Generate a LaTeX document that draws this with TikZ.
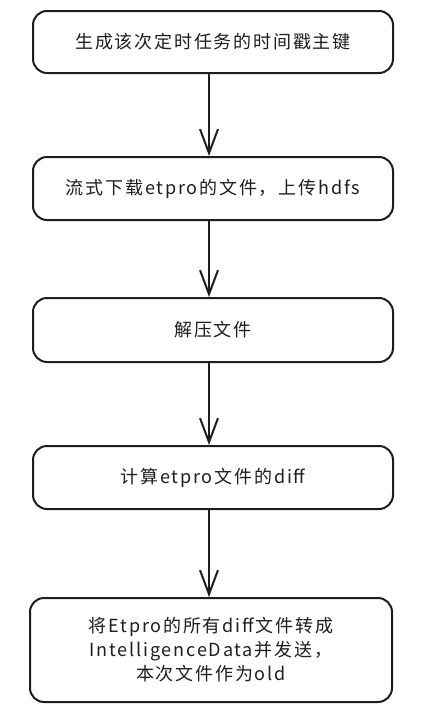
\documentclass[tikz,border=0pt]{standalone}
\usepackage{fontspec}
\setmainfont{Noto Sans CJK SC}[LetterSpace=10]
\usetikzlibrary{arrows.meta}
\definecolor{ink}{HTML}{1E1E1E}

\begin{document}
\begin{tikzpicture}[x=1pt,y=-1pt,
        stepbox/.style={draw=ink,line width=2pt,rounded corners=14pt,
                        minimum width=360pt,inner sep=0pt,align=center,
                        text=ink,font=\fontsize{18}{24}\selectfont},
        flow/.style={draw=ink,line width=2.6pt,
                     -{Straight Barb[length=24pt,width=18pt,line width=2pt]}}]
                \useasboundingbox[fill=white] (0,0) rectangle (427,720);
                \node[stepbox,minimum height=62pt] (gen) at (213,42) {生成该次定时任务的时间戳主键};
                \node[stepbox,minimum height=63pt] (down) at (213,188.5) {流式下载etpro的文件，上传hdfs};
                \node[stepbox,minimum height=64pt] (unzip) at (213,330) {解压文件};
                \node[stepbox,minimum height=63pt] (diff) at (213,477.5) {计算etpro文件的diff};
                \node[stepbox,minimum height=104pt,minimum width=362pt] (send) at (211,650)
                    {将Etpro的所有diff文件转成\\IntelligenceData并发送，\\本次文件作为old};
                \draw[flow] ([xshift=-4pt]gen.south) -- ([xshift=-4pt]down.north);
                \draw[flow] ([xshift=-4pt]down.south) -- ([xshift=-4pt]unzip.north);
                \draw[flow] ([xshift=-4pt]unzip.south) -- ([xshift=-4pt]diff.north);
                \draw[flow] ([xshift=-4pt]diff.south) -- ([xshift=-2pt]send.north);
\end{tikzpicture}
\end{document}
